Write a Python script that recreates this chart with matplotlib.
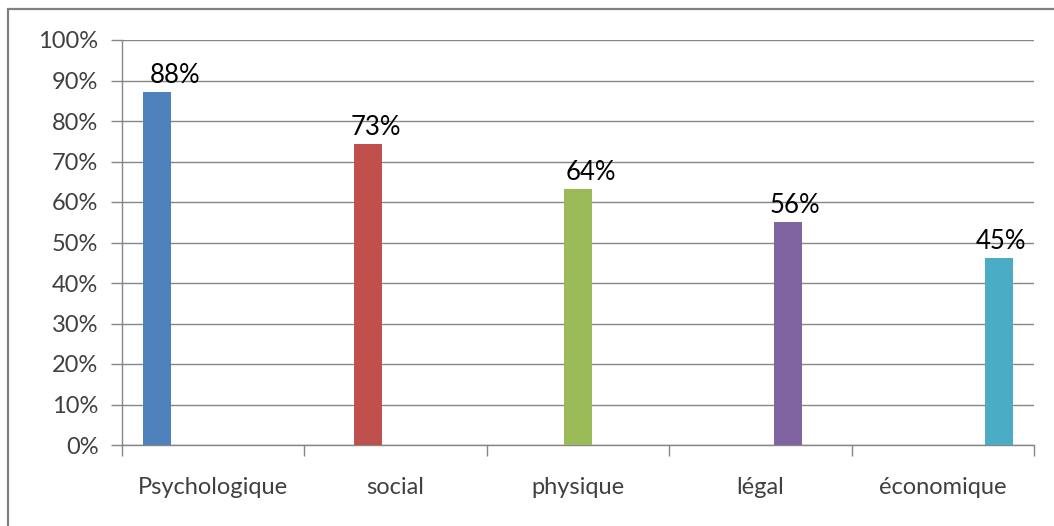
import numpy as np
import matplotlib.pyplot as plt
from matplotlib.patches import Rectangle

categories = ["Psychologique", "social", "physique", "légal", "économique"]
bar_values = [87.2, 74.3, 63.1, 55.0, 46.1]
value_labels = ["88%", "73%", "64%", "56%", "45%"]
colors = ["#4F81BD", "#C0504D", "#9BBB59", "#8064A2", "#4BACC6"]
y_ticks = [0, 10, 20, 30, 40, 50, 60, 70, 80, 90, 100]

# the data labels were nudged by hand in the original, horizontal shift in points
label_dx = [13, 6, 9, 5, 1.5]

W, H = 1054, 526
fig = plt.figure(figsize=(W / 100, H / 100), dpi=100)
ax = fig.add_axes([122 / W, 1 - 445 / H, (1034 - 122) / W, (445 - 40) / H])

# clustered layout like excel: 5 series, gap width 150%
n = len(categories)
slot = 1 / (n + 1.5)
x = np.arange(n)
for i in range(n):
    xi = x[i] + (i - (n - 1) / 2) * slot
    ax.bar(xi, bar_values[i], width=slot, color=colors[i], zorder=3)
    ax.annotate(value_labels[i], (xi, bar_values[i]), xytext=(label_dx[i], 3),
                textcoords="offset points", ha="center", va="bottom",
                fontsize=18.5, family="Lato", color="black", zorder=4)

ax.set_xlim(-0.5, n - 0.5)
ax.set_ylim(0, 100)
ax.set_yticks(y_ticks)
ax.set_yticklabels([f"{t}%" for t in y_ticks], family="Lato", fontsize=17, color="#404040")
ax.set_xticks(x)
ax.set_xticklabels(categories, family="Lato", fontsize=17, color="#404040")
ax.set_xticks(np.arange(n + 1) - 0.5, minor=True)
ax.tick_params(axis="x", which="major", length=0, pad=23)
ax.tick_params(axis="x", which="minor", length=8, width=1, color="#868686", direction="out")
ax.tick_params(axis="y", length=8, width=1, color="#868686", pad=9)
ax.grid(axis="y", color="#868686", linewidth=1, zorder=0)
for s in ["top", "right"]:
    ax.spines[s].set_visible(False)
for s in ["left", "bottom"]:
    ax.spines[s].set_color("#868686")
    ax.spines[s].set_linewidth(1)

# outer chart frame (only top and left visible in the crop)
fig.patches.append(Rectangle((8 / W, -0.1), 1.2, 1.1 - 9 / H, transform=fig.transFigure,
                             fill=False, edgecolor="#808080", linewidth=1.6))

fig.savefig("out.png", dpi=100)
